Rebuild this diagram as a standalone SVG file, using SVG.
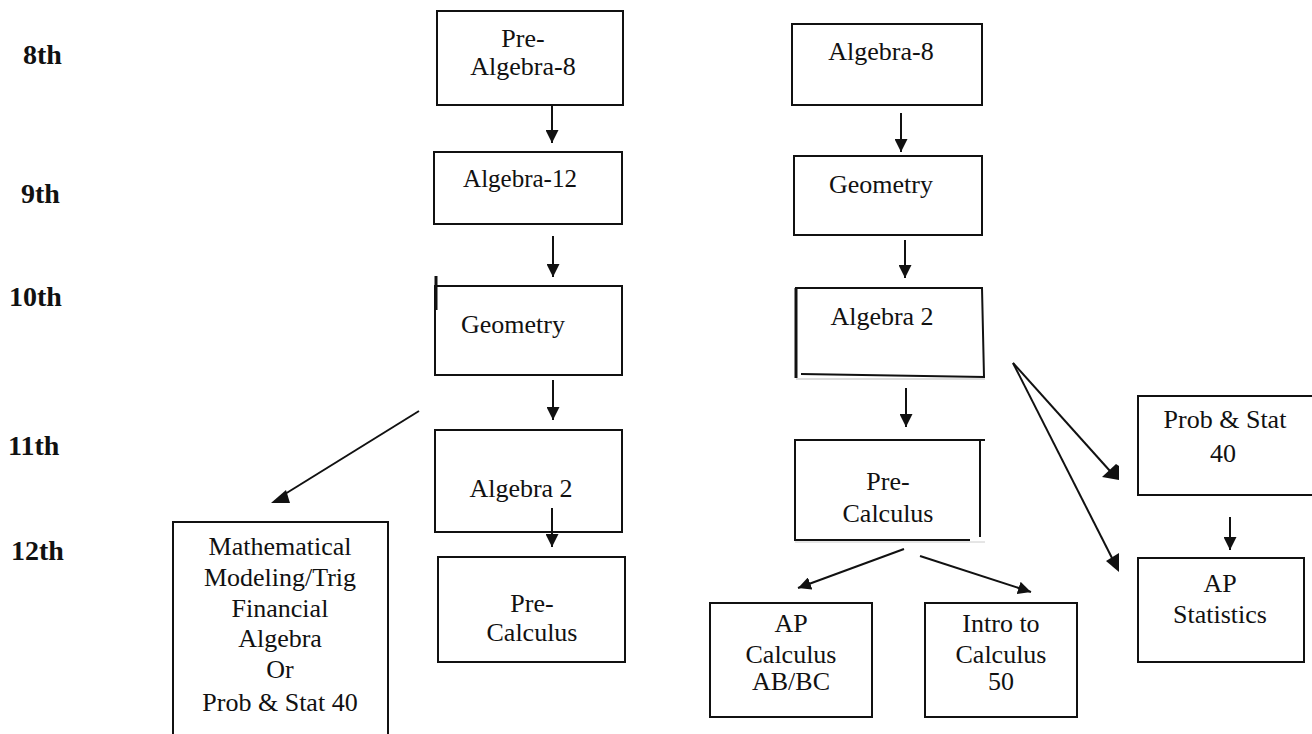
<svg xmlns="http://www.w3.org/2000/svg" width="1312" height="734" viewBox="0 0 1312 734">
<style>
.box{fill:#fff;stroke:#111;stroke-width:2}
.edge{stroke:#111;stroke-width:2;fill:none}
.t{font-family:"Liberation Serif","Times New Roman",serif;font-size:26px;fill:#111;text-anchor:middle}
.g{font-family:"Liberation Serif","Times New Roman",serif;font-size:28px;font-weight:bold;fill:#111}
.ah{fill:#111}
</style>
<defs>
<marker id="arr" viewBox="0 0 12 12" refX="12" refY="6" markerWidth="13" markerHeight="13" markerUnits="userSpaceOnUse" orient="auto">
<path d="M0,0 L12,6 L0,12 z" fill="#111"/>
</marker>
</defs>
<rect width="1312" height="734" fill="#fff"/>

<g id="grades">
<text class="g" x="23" y="64">8th</text>
<text class="g" x="21" y="203">9th</text>
<text class="g" x="9" y="306">10th</text>
<text class="g" x="8" y="455">11th</text>
<text class="g" x="11" y="560">12th</text>
</g>

<g id="c1-prealgebra8">
<rect class="box" x="437" y="11" width="186" height="94"/>
<text class="t" x="523" y="47">Pre-</text>
<text class="t" x="523" y="75">Algebra-8</text>
</g>
<g id="c1-algebra12">
<rect class="box" x="434" y="152" width="188" height="72"/>
<text class="t" x="520" y="187" style="font-size:25px">Algebra-12</text>
</g>
<g id="c1-geometry">
<rect class="box" x="435" y="286" width="187" height="89"/>
<line x1="436" y1="276" x2="436" y2="310" stroke="#111" stroke-width="3"/>
<text class="t" x="513" y="333">Geometry</text>
</g>
<g id="c1-algebra2">
<rect class="box" x="435" y="430" width="187" height="102"/>
<text class="t" x="521" y="497">Algebra 2</text>
</g>
<g id="c1-precalc">
<rect class="box" x="438" y="557" width="187" height="105"/>
<text class="t" x="532" y="612">Pre-</text>
<text class="t" x="532" y="641">Calculus</text>
</g>
<g id="c1-math">
<rect class="box" x="173" y="522" width="215" height="230"/>
<text class="t" x="280" y="555">Mathematical</text>
<text class="t" x="280" y="586">Modeling/Trig</text>
<text class="t" x="280" y="617">Financial</text>
<text class="t" x="280" y="647">Algebra</text>
<text class="t" x="280" y="678">Or</text>
<text class="t" x="280" y="711">Prob &amp; Stat 40</text>
</g>

<g id="c2-algebra8">
<rect class="box" x="792" y="24" width="190" height="81"/>
<text class="t" x="881" y="60">Algebra-8</text>
</g>
<g id="c2-geometry">
<rect class="box" x="794" y="156" width="188" height="79"/>
<text class="t" x="881" y="193">Geometry</text>
</g>
<g id="c2-algebra2">
<path class="edge" d="M795,288 L982,288 L984,377"/>
<line x1="796" y1="288" x2="796" y2="378" stroke="#111" stroke-width="3"/>
<line x1="801" y1="374" x2="985" y2="377" stroke="#111" stroke-width="2"/>
<line x1="796" y1="379" x2="985" y2="379" stroke="#bbb" stroke-width="1"/>
<text class="t" x="882" y="325">Algebra 2</text>
</g>
<g id="c2-precalc">
<path class="edge" d="M795,540 L795,440 L985,440"/>
<line x1="980" y1="440" x2="980" y2="537" stroke="#111" stroke-width="2"/>
<line x1="794" y1="540" x2="970" y2="540" stroke="#111" stroke-width="2"/>
<line x1="795" y1="542" x2="985" y2="542" stroke="#ccc" stroke-width="1"/>
<text class="t" x="888" y="490">Pre-</text>
<text class="t" x="888" y="522">Calculus</text>
</g>
<g id="c2-apcalc">
<rect class="box" x="710" y="603" width="162" height="114"/>
<text class="t" x="791" y="632">AP</text>
<text class="t" x="791" y="663">Calculus</text>
<text class="t" x="791" y="690">AB/BC</text>
</g>
<g id="c2-intro">
<rect class="box" x="925" y="603" width="152" height="114"/>
<text class="t" x="1001" y="632">Intro to</text>
<text class="t" x="1001" y="663">Calculus</text>
<text class="t" x="1001" y="690">50</text>
</g>

<g id="c3-probstat">
<rect class="box" x="1138" y="396" width="180" height="99"/>
<text class="t" x="1225" y="428">Prob &amp; Stat</text>
<text class="t" x="1223" y="462">40</text>
</g>
<g id="c3-apstat">
<rect class="box" x="1138" y="558" width="166" height="104"/>
<text class="t" x="1220" y="592">AP</text>
<text class="t" x="1220" y="623">Statistics</text>
</g>

<g id="connectors">
<line class="edge" x1="552" y1="105" x2="552" y2="143" marker-end="url(#arr)"/>
<line class="edge" x1="553" y1="236" x2="553" y2="277" marker-end="url(#arr)"/>
<line class="edge" x1="553" y1="380" x2="553" y2="420" marker-end="url(#arr)"/>
<line class="edge" x1="552" y1="508" x2="552" y2="547" marker-end="url(#arr)"/>
<line class="edge" x1="419" y1="411" x2="285" y2="494"/>
<polygon class="ah" points="271,503 290,503 286,490"/>
<line class="edge" x1="901" y1="113" x2="901" y2="152" marker-end="url(#arr)"/>
<line class="edge" x1="905" y1="240" x2="905" y2="278" marker-end="url(#arr)"/>
<line class="edge" x1="906" y1="388" x2="906" y2="427" marker-end="url(#arr)"/>
<line class="edge" x1="904" y1="549" x2="798" y2="588" marker-end="url(#arr)"/>
<line class="edge" x1="920" y1="556" x2="1031" y2="592" marker-end="url(#arr)"/>
<line class="edge" x1="1013" y1="363" x2="1110" y2="471"/>
<polygon class="ah" points="1102,477 1116,464 1119,466 1119,480"/>
<line class="edge" x1="1013" y1="363" x2="1112" y2="558"/>
<polygon class="ah" points="1106,561 1119,553 1119,572"/>
<line class="edge" x1="1230" y1="517" x2="1230" y2="550" marker-end="url(#arr)"/>
</g>
</svg>
